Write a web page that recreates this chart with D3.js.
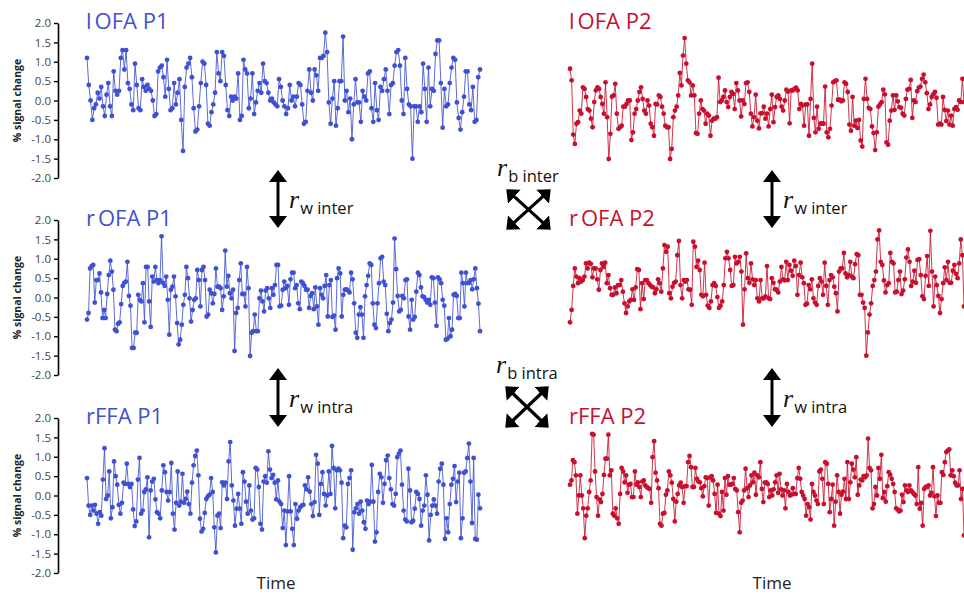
<!DOCTYPE html>
<html>
<head>
<meta charset="utf-8">
<script src="https://cdn.jsdelivr.net/npm/d3@7"></script>
<style>
    body { margin: 0; background: #fff; }
    svg text { font-family: "Open Sans", sans-serif; }
</style>
</head>
<body>
<div id="chart"></div>
<script>

// % signal change per volume
const lOFA_P1 = [1.1,0.4,0.0,-0.5,-0.2,-0.1,0.2,0.05,0.35,-0.15,-0.4,0.15,0.45,-0.15,-0.4,0.75,0.25,0.15,0.25,1.1,1.3,0.8,1.3,0.45,0.3,-0.1,-0.25,0.95,0.4,-0.2,-0.25,0.55,0.35,0.25,0.4,0.3,0.25,0.0,-0.4,-0.35,0.75,0.85,0.9,0.6,0.1,1.05,0.3,-0.25,-0.2,0.45,-0.1,0.2,0.55,-0.5,-1.3,0.35,0.85,0.95,1.1,0.6,-0.2,-0.8,-0.75,-0.15,0.45,1.0,0.95,0.4,-0.6,-0.65,-0.3,-0.1,0.2,1.25,0.7,0.5,1.25,1.15,0.4,-0.25,-0.4,0.1,0.0,0.1,0.05,0.7,-0.5,-0.4,1.05,0.8,0.7,-0.2,0.05,0.7,-0.35,-0.05,0.25,0.45,0.2,0.95,0.5,
    0.45,0.2,0.0,0.05,-0.05,-0.1,-0.15,0.55,0.35,0.0,-0.15,-0.35,-0.2,0.4,0.0,0.1,-0.15,0.1,0.45,0.4,-0.1,-0.6,-0.55,0.25,0.8,0.2,0.0,0.8,0.65,0.25,1.1,1.1,1.15,1.75,1.25,-0.05,-0.6,0.05,0.5,-0.65,-0.2,0.5,0.5,1.65,0.0,0.25,-0.3,0.05,-1.0,-0.1,0.55,-0.05,-0.05,-0.55,0.25,0.1,0.0,0.7,0.75,-0.2,-0.55,0.45,-0.25,-0.5,0.35,0.25,0.55,0.8,0.25,-0.35,0.4,0.45,0.9,1.25,1.3,0.9,0.0,-0.35,1.1,0.3,-0.1,-0.15,-1.5,-0.15,-0.15,-0.55,-0.15,-0.3,0.95,0.3,-0.55,0.85,-0.15,0.3,0.25,1.2,1.55,1.55,0.45,-0.7,0.3,-0.15,-0.1,0.45,0.85,1.1,1.05,-0.05,-0.45,-0.75,-0.3,0.1,0.75,0.75,-0.1,-0.25,0.35,-0.55,-0.5,0.6,0.8];

const lOFA_P2 = [0.82,0.52,-0.88,-1.12,-0.60,-0.56,-0.26,-0.34,0.34,0.30,0.09,-0.22,-0.26,-0.47,-0.69,-0.04,0.26,0.34,0.30,0.09,-0.09,-0.34,0.47,-0.43,-1.51,-0.86,0.10,0.13,0.43,-0.34,-0.73,-0.69,-0.65,-0.16,-0.16,-0.09,0.0,0.0,-1.02,-0.82,-0.34,-0.22,0.0,0.22,0.34,0.04,-0.26,-0.34,0.0,-0.13,-0.60,-0.69,-0.91,-0.09,-0.10,0.13,0.09,-0.16,-0.34,-0.65,-0.69,-0.69,-1.51,-1.25,-0.43,-0.26,-0.16,0.13,0.71,0.39,1.16,1.61,0.95,0.52,0.47,0.13,0.39,0.13,-0.84,-0.86,-0.34,0.0,-0.22,-0.26,-0.60,-0.34,-0.39,-0.91,-0.52,-0.47,-0.47,-0.43,0.59,-0.04,0.0,0.09,0.26,-0.04,-0.17,0.09,0.22,0.17,-0.22,
    0.45,0.26,0.0,-0.41,0.0,-0.09,0.45,0.47,0.22,-0.34,-0.67,-0.43,0.15,-0.52,-0.72,-0.33,-0.33,-0.16,-0.47,-0.34,-0.67,-0.22,0.15,-0.56,-0.17,0.09,0.13,0.04,-0.16,-0.26,0.0,0.28,0.23,-0.59,0.26,0.26,0.30,0.33,0.26,-0.22,-0.09,-0.13,-0.65,-0.10,-0.10,-0.91,0.04,0.95,-0.45,-0.82,-0.16,-0.73,-0.60,-0.59,-0.60,0.36,-0.82,-0.95,-0.73,-0.13,0.47,0.50,0.52,0.02,0.02,-0.02,0.0,0.47,0.43,0.22,-0.62,-0.78,0.09,-0.65,-0.52,-0.71,-0.50,-1.03,-1.19,0.04,0.56,0.04,-0.19,-0.22,-0.67,-0.84,-1.28,-0.82,-0.16,-0.10,-0.04,0.28,0.16,-1.08,-1.14,-0.52,-0.26,0.13,-0.24,0.13,-0.02,-0.17,-0.19,-0.34,-0.39,0.04,0.28,0.30,0.53,-0.45,0.0,-0.04,0.24,0.33,0.36,0.56,0.67,0.47,0.19,-0.22,-0.10,0.09,0.16,0.22,0.07,-0.62,-0.60,-0.62,0.09,-0.24,-0.53,-0.26,-0.62,-0.39,-0.65,-0.22,-0.17,-0.24,0.0,-0.04,0.56,-0.04];

const rOFA_P1 = [-0.57,-0.40,0.75,0.81,0.84,-0.13,0.45,0.45,0.62,0.13,-0.53,-0.32,-0.53,0.09,0.58,0.95,0.67,0.20,-0.83,-0.87,-0.68,-0.64,-0.17,0.30,0.38,0.41,0.92,0.04,-0.21,-1.30,-1.30,-0.91,-0.91,0.07,-0.06,-0.10,0.37,-0.64,0.79,0.79,-0.10,-0.76,0.54,0.41,0.79,0.45,0.37,0.45,1.58,0.38,0.30,0.54,-0.06,-0.96,0.20,0.28,0.54,0.03,-0.66,-1.21,-1.09,-0.70,-0.19,0.07,0.79,0.50,-0.02,-0.62,-0.32,-0.06,-0.02,0.71,0.45,-0.23,0.71,0.79,0.45,-0.49,-0.44,0.20,0.11,-0.15,0.09,0.75,0.28,0.28,0.24,-0.32,0.03,1.21,0.28,0.56,0.11,-0.02,0.20,-1.38,-0.40,-0.27,0.45,0.88,0.09,0.09,-0.23,0.79,0.24,-1.51,-0.91,-0.87,-0.44,-0.87,-0.87,-0.02,0.18,-0.10,-0.36,0.18,0.24,-0.02,-0.27,
    0.24,0.07,0.32,0.84,0.84,-0.23,-0.21,0.20,0.41,0.24,0.30,-0.19,0.47,0.64,0.64,0.24,0.32,-0.15,-0.30,0.41,0.37,0.30,0.20,0.20,-0.27,0.04,0.11,-0.30,0.26,-0.23,-0.70,0.24,0.07,-0.02,0.30,0.58,-0.49,0.32,0.45,-0.50,-0.47,-0.83,0.50,0.75,0.62,-0.49,0.07,0.20,0.21,0.18,0.13,0.64,0.47,-0.15,-0.91,-1.04,-0.44,-0.25,-0.44,-1.04,0.03,0.32,0.56,0.88,0.84,-0.15,-0.70,-0.79,-0.15,0.37,1.01,1.05,0.41,0.32,-0.42,-0.87,-0.66,-0.57,-0.13,1.52,0.73,0.04,-0.36,-0.32,0.04,-0.02,0.45,0.47,-0.49,-0.83,-0.06,-0.57,-0.50,0.15,0.64,0.58,0.26,0.03,0.01,-0.06,-0.13,-0.06,-0.19,0.52,0.50,-0.13,-0.73,0.52,0.47,0.37,-0.06,-0.21,-1.09,-1.07,-0.53,-1.00,-0.83,0.07,0.09,0.04,-0.53,-0.53,0.64,0.37,-0.23,0.64,0.37,0.38,0.45,0.21,0.47,0.75,0.24,-0.16,-0.87];

const rOFA_P2 = [-0.64,-0.32,0.30,0.75,0.54,0.37,0.50,0.41,0.45,0.54,0.88,0.75,0.90,0.87,0.52,0.75,0.75,0.47,0.20,0.71,0.88,0.79,0.90,0.37,0.58,0.24,0.07,0.07,0.26,0.11,0.32,0.32,0.45,0.15,-0.15,-0.40,-0.23,-0.10,-0.06,0.21,-0.06,0.26,0.73,0.71,-0.30,0.37,-0.04,0.45,0.45,0.37,0.32,0.28,0.26,0.11,0.21,0.47,0.37,0.15,0.75,1.35,1.18,1.31,0.11,-0.02,0.28,0.38,0.41,1.09,1.46,0.32,-0.02,0.45,0.41,0.45,0.21,0.20,-0.19,1.44,1.31,0.79,0.95,0.71,0.07,0.03,0.90,0.07,-0.21,-0.27,-0.10,0.32,0.37,0.30,0.01,-0.27,-0.21,-0.10,0.32,1.01,1.18,1.01,0.71,0.30,0.32,1.05,0.88,
    0.92,1.05,0.67,-0.70,0.21,1.14,0.50,0.38,0.88,0.47,0.32,0.45,-0.02,-0.10,0.45,-0.02,-0.02,0.03,0.81,-0.02,-0.04,0.50,0.38,0.21,0.20,0.13,0.41,0.79,0.47,0.44,0.92,0.45,0.84,0.69,0.56,0.95,0.81,0.07,0.58,0.90,0.52,0.37,-0.19,-0.16,0.32,0.21,0.47,-0.02,-0.13,-0.19,0.30,0.50,0.41,0.07,0.90,0.30,-0.19,0.45,0.58,0.52,0.28,0.11,-0.36,0.67,0.75,0.75,1.15,0.62,0.52,0.58,0.92,0.54,0.50,0.86,1.12,1.09,0.07,0.07,-0.13,-0.27,-1.50,-0.90,-0.44,-0.15,0.30,0.45,0.67,1.50,1.73,0.92,0.84,0.44,0.13,0.32,0.37,1.15,0.92,0.88,0.13,0.15,0.45,0.67,0.09,0.18,0.47,1.03,1.24,0.92,0.30,0.41,0.69,0.38,0.97,0.99,0.58,0.03,-0.04,0.56,1.07,0.30,1.72,0.67,-0.23,0.54,0.32,0.04,-0.40,-0.04,0.37,0.78,0.45,0.92,0.38,0.38,0.69,0.84,0.61,0.50,0.88,1.50,1.09,-0.23];

const rFFA_P1 = [0.45,-0.26,-0.50,-0.26,-0.39,-0.24,-0.47,-0.73,-0.43,-0.52,0.41,1.22,-0.09,0.0,0.62,-0.59,-0.30,0.88,0.50,0.28,-0.24,-0.47,-0.19,0.33,0.30,0.82,0.30,0.22,0.30,-0.36,-0.79,-0.67,0.41,0.97,-0.47,-0.39,0.09,0.16,0.47,-1.08,0.13,0.36,0.43,-0.10,-0.43,-0.47,-0.59,0.13,0.78,0.60,0.09,-0.13,0.09,0.84,-0.47,-0.88,-0.19,0.62,-0.26,-0.16,0.56,-0.19,-0.09,0.10,-0.22,-0.47,0.33,0.78,1.02,1.16,0.52,-0.60,-0.93,-0.86,-0.45,-0.09,-0.02,0.02,0.45,0.09,-0.82,-1.47,-0.52,-0.47,-0.84,0.34,0.26,0.33,-0.09,0.88,1.38,0.26,-0.13,-0.78,-0.34,0.04,-0.34,-0.73,0.60,0.36,-0.16,-0.47,0.26,-0.39,-0.62,-0.59,0.71,0.67,0.22,-0.73,-0.88,0.36,0.50,0.33,1.14,0.67,0.45,0.53,0.33,-0.10,
    0.39,-0.16,-0.22,-0.84,-0.39,-1.28,-0.41,0.50,-0.41,-0.86,-1.28,-0.22,-0.60,-0.39,-0.30,-0.26,-0.24,0.26,0.16,0.47,0.10,-0.22,-0.53,-0.17,1.05,0.82,-0.50,0.30,0.60,0.04,-0.26,0.0,0.62,0.04,1.28,0.71,-0.33,0.65,0.69,0.65,0.33,-1.10,-0.78,-0.82,0.30,0.45,0.65,-1.40,-0.43,-0.33,-0.22,-0.47,-0.16,-0.39,-0.69,-0.86,-0.13,-0.22,-0.16,0.79,-0.16,-1.19,-0.95,0.09,0.56,0.47,-0.19,0.30,0.91,1.03,0.45,0.16,-0.22,-0.26,0.04,0.99,1.08,1.16,0.28,-0.39,-0.62,-0.67,0.69,0.13,-0.69,-0.65,-0.34,0.09,0.04,-0.09,-0.78,-0.39,-0.26,0.52,0.02,-1.16,-0.50,-0.26,-0.10,-0.26,-0.47,0.36,0.69,0.82,0.28,-1.12,-0.59,-0.95,-0.22,0.28,0.43,0.76,-0.17,0.36,0.59,-1.10,-0.59,0.59,0.62,0.97,1.34,0.36,-0.71,0.97,-1.12,-1.14,0.02,-0.33];

const rFFA_P2 = [0.28,0.39,0.91,0.86,0.52,-0.47,0.0,0.52,0.0,-0.33,-1.10,-0.52,-0.33,0.09,0.39,1.59,1.57,0.62,-0.04,-0.52,-0.10,-0.17,0.04,0.53,0.95,0.95,1.57,0.52,0.65,-0.47,-0.52,-0.33,-0.59,-0.73,0.04,0.71,0.62,0.34,0.52,0.07,0.28,0.30,-0.04,-0.04,0.62,0.28,0.34,0.22,-0.04,0.36,0.39,0.26,0.22,0.19,0.17,-0.19,0.99,1.40,0.59,0.39,0.19,-0.73,-0.78,-0.47,-0.45,0.02,0.13,0.62,0.52,0.33,-0.09,-0.67,-0.16,0.04,0.26,0.33,0.22,-0.19,0.24,0.24,0.86,1.02,0.73,0.22,0.22,0.71,0.43,0.36,0.34,0.19,-0.02,0.24,0.47,0.45,-0.26,0.47,0.50,0.39,0.04,-0.45,0.28,-0.47,-0.53,0.09,-0.39,0.45,0.02,0.50,0.28,0.28,0.30,0.45,0.17,0.13,-0.43,-0.95,-0.19,-0.13,
    0.13,0.69,0.19,-0.04,0.26,0.52,0.34,0.59,0.02,0.52,0.47,0.86,0.17,-0.17,0.33,0.34,0.30,-0.04,0.13,0.0,0.16,0.34,0.52,0.07,0.56,0.16,0.0,0.13,-0.33,0.30,0.09,0.0,0.02,0.19,0.04,0.04,0.45,0.71,0.43,0.09,0.0,-0.09,-0.52,-0.22,-0.30,-0.62,0.30,0.09,0.0,-0.13,-0.22,0.62,0.67,0.43,-0.22,0.86,0.82,0.30,-0.43,-0.09,0.28,-0.78,-0.16,0.52,0.09,-0.47,0.02,0.10,0.43,-0.09,0.86,-0.09,0.34,0.82,0.67,0.47,0.99,0.02,0.26,0.41,0.39,0.50,0.47,0.52,1.47,0.71,0.65,-0.33,-0.22,0.22,0.0,0.71,0.43,1.05,-0.07,0.09,-0.16,0.24,0.60,0.53,0.43,0.30,0.09,-0.33,-0.36,-0.41,-0.39,0.02,-0.17,0.26,0.13,0.09,0.26,0.13,0.09,0.04,0.0,-0.22,0.73,-0.34,-0.19,-0.78,0.17,0.22,0.22,0.26,0.0,0.07,0.73,-0.02,-0.53,0.0,-0.19,-0.19,0.60,0.53,0.86,1.12,1.16,1.19,0.52,0.65,0.50,0.33,0.26,0.26,0.65,-0.09,0.17,-1.03];

// titles split so the region letter sits a little apart
const regionPrefix = ["l", "r", "r"];
const regionName = ["OFA", "OFA", "FFA"];
const participants = ["P1", "P2"];
const yTicks = [2.0, 1.5, 1.0, 0.5, 0.0, -0.5, -1.0, -1.5, -2.0];
const withinLabels = ["w inter", "w intra"];
const betweenLabels = ["b inter", "b intra"];

const seriesGrid = [
    [lOFA_P1, lOFA_P2],
    [rOFA_P1, rOFA_P2],
    [rFFA_P1, rFFA_P2]
];
const colors = ["#3f51d1", "#c8102e"];

const width = 964, height = 595;
const rowTop = [23, 220, 418];     // y of the 2.0 tick in each row
const rowHeight = 155;
const colRange = [[87, 480], [570, 964]];

const svg = d3.select("#chart").append("svg")
    .attr("width", width)
    .attr("height", height)
    .style("background", "#fff");

// arrow heads
const defs = svg.append("defs");
defs.append("marker")
    .attr("id", "head")
    .attr("viewBox", "0 0 12 18")
    .attr("refX", 2).attr("refY", 9)
    .attr("markerWidth", 12).attr("markerHeight", 18)
    .attr("markerUnits", "userSpaceOnUse")
    .attr("orient", "auto-start-reverse")
    .append("path").attr("d", "M0,0 L12,9 L0,18 Z").attr("fill", "#000");
defs.append("marker")
    .attr("id", "headX")
    .attr("viewBox", "0 0 11 19")
    .attr("refX", 2).attr("refY", 9.5)
    .attr("markerWidth", 11).attr("markerHeight", 19)
    .attr("markerUnits", "userSpaceOnUse")
    .attr("orient", "auto-start-reverse")
    .append("path").attr("d", "M0,0 L11,9.5 L0,19 Z").attr("fill", "#000");

seriesGrid.forEach(function(row, r) {
    let y = d3.scaleLinear().domain([-2, 2]).range([rowTop[r] + rowHeight, rowTop[r]]);

    // only the left column carries an axis
    let axis = svg.append("g")
        .attr("class", "y-axis")
        .attr("transform", "translate(58,0)")
        .call(d3.axisLeft(y).tickValues(yTicks).tickSize(4).tickSizeOuter(0)
            .tickFormat(d => d.toFixed(1)));
    axis.select(".domain").attr("stroke", "#000").attr("stroke-width", 1.6);
    axis.selectAll(".tick line").attr("stroke", "#000").attr("stroke-width", 1.4);
    axis.selectAll(".tick text")
        .attr("x", -7)
        .style("font-family", "'Open Sans', sans-serif")
        .style("font-size", "11.5px")
        .attr("fill", "#444");

    svg.append("text")
        .attr("transform", "translate(21," + y(0) + ") rotate(-90)")
        .attr("text-anchor", "middle")
        .style("font-size", "10.5px")
        .style("font-weight", "bold")
        .attr("fill", "#222")
        .text("% signal change");

    row.forEach(function(values, c) {
        let x = d3.scaleLinear().domain([0, values.length - 1]).range(colRange[c]);
        let g = svg.append("g").attr("class", "panel");

        let title = g.append("text")
            .attr("x", colRange[c][0] - 1)
            .attr("y", y(0) - 72)
            .attr("fill", colors[c])
            .style("font-size", "22px");
        title.append("tspan").text(regionPrefix[r]);
        title.append("tspan").attr("dx", r < 2 ? 3 : 0)
            .text(regionName[r] + " " + participants[c]);

        g.append("path")
            .datum(values)
            .attr("fill", "none")
            .attr("stroke", colors[c])
            .attr("stroke-width", 1)
            .attr("stroke-opacity", 0.85)
            .attr("d", d3.line().x((d, i) => x(i)).y(d => y(d)));

        g.selectAll("circle")
            .data(values)
            .enter().append("circle")
            .attr("cx", (d, i) => x(i))
            .attr("cy", d => y(d))
            .attr("r", 2.4)
            .attr("fill", colors[c]);
    });
});

// "Time" under each column
[276, 772].forEach(function(cx) {
    svg.append("text")
        .attr("x", cx).attr("y", 589)
        .attr("text-anchor", "middle")
        .style("font-size", "17px")
        .attr("fill", "#222")
        .text("Time");
});

function rLabel(x, y, sub) {
    let t = svg.append("text").attr("x", x).attr("y", y).attr("fill", "#111");
    t.append("tspan")
        .style("font-family", "'Liberation Serif', serif")
        .style("font-style", "italic")
        .style("font-size", "26px")
        .text("r");
    t.append("tspan")
        .attr("dx", 1).attr("dy", 6)
        .style("font-size", "16.5px")
        .text(sub);
}

// within-participant arrows between rows
const gaps = [[170, 228], [368, 427]];
[278, 772].forEach(function(ax) {
    gaps.forEach(function(gp, k) {
        svg.append("line")
            .attr("x1", ax).attr("x2", ax)
            .attr("y1", gp[0] + 10).attr("y2", gp[1] - 10)
            .attr("stroke", "#000").attr("stroke-width", 3)
            .attr("marker-start", "url(#head)")
            .attr("marker-end", "url(#head)");
        rLabel(ax + 11, (gp[0] + gp[1]) / 2 + 9, withinLabels[k]);
    });
});

// between-participant crosses
const crosses = [[507, 190, 550, 229], [506, 387, 548, 427]];
crosses.forEach(function(b, k) {
    let s = 8;
    [[b[0], b[1], b[2], b[3]], [b[2], b[1], b[0], b[3]]].forEach(function(l) {
        let dx = l[2] - l[0], dy = l[3] - l[1], len = Math.sqrt(dx * dx + dy * dy);
        svg.append("line")
            .attr("x1", l[0] + dx / len * s).attr("y1", l[1] + dy / len * s)
            .attr("x2", l[2] - dx / len * s).attr("y2", l[3] - dy / len * s)
            .attr("stroke", "#000").attr("stroke-width", 3.2)
            .attr("marker-start", "url(#headX)")
            .attr("marker-end", "url(#headX)");
    });
    rLabel(b[0] - 10, b[1] - 14, betweenLabels[k]);
});

</script>
</body>
</html>
